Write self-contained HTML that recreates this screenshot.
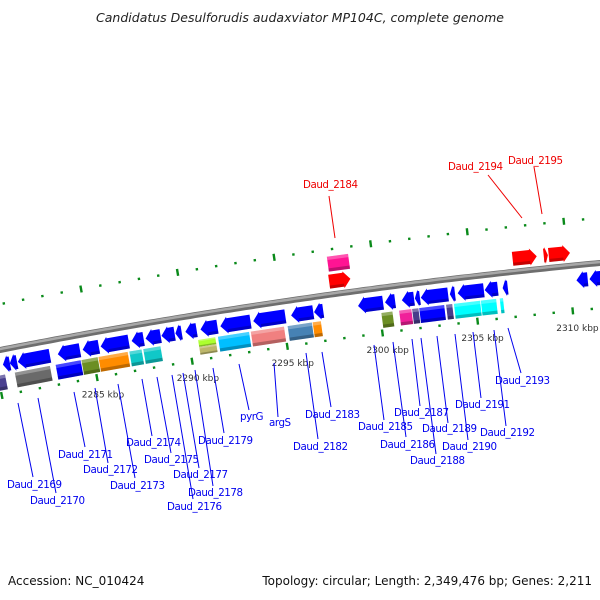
<!DOCTYPE html>
<html><head><meta charset="utf-8">
<style>
html,body{margin:0;padding:0;background:#fff;}
svg{display:block;font-family:"DejaVu Sans","Liberation Sans",sans-serif;}
.gl{fill:#0000ee;font-size:10.3px;letter-spacing:-0.45px;}
.rl{fill:#ee0000;font-size:10.3px;letter-spacing:-0.45px;}
</style></head>
<body>
<svg id="map" width="600" height="600" viewBox="0 0 600 600" xmlns="http://www.w3.org/2000/svg">
<rect width="600" height="600" fill="#fff"/>
<text x="300" y="22" text-anchor="middle" font-style="italic" font-size="12.5" fill="#222">Candidatus Desulforudis audaxviator MP104C, complete genome</text>
<g id="ticks"></g>
<g id="backbone"></g>
<g id="genes"></g>
<g id="labels"></g>
<text x="8" y="585" font-size="12" fill="#111">Accession: NC_010424</text>
<text x="592" y="585" text-anchor="end" font-size="12" fill="#111">Topology: circular; Length: 2,349,476 bp; Genes: 2,211</text>
</svg>
<script>
// data (kbp)
const minusArrowStart=[2280.36,2280.72,2281.14,2283.23,2284.53,2285.47,2287.09,2287.82,2288.65,2289.38,2289.90,2290.69,2291.73,2293.45,2295.43,2296.63,2298.93,2300.34,2301.22,2301.90,2302.21,2303.73,2304.14,2305.55,2306.49,2310.35,2311.03];
const minusArrowEnd=[2280.77,2281.14,2282.86,2284.43,2285.42,2286.98,2287.76,2288.65,2289.38,2289.75,2290.53,2291.62,2293.35,2295.17,2296.63,2297.15,2300.28,2300.91,2301.90,2302.21,2303.68,2304.04,2305.55,2306.28,2306.80,2310.98,2311.66];
const boxStart=[2279.8,2280.88,2283.02,2284.37,2285.26,2286.88,2287.61,2291.52,2293.24,2295.17,2296.48,2300.08,2301.01,2301.69,2302.06,2303.47,2303.88,2305.29,2306.28];
const boxEnd=[2280.41,2282.76,2284.37,2285.26,2286.83,2287.56,2288.55,2293.19,2295.02,2296.48,2296.95,2300.70,2301.69,2302.06,2303.41,2303.83,2305.29,2306.13,2306.49];
const boxColor=["#4a4090","#6a6a6a","#0000ff","#6b8e23","#ff8c00","#10c8c8","#10c8c8","#00bfff","#f08080","#4682b4","#ff8c00","#6b8e23","#f0209a","#483d8b","#0000ff","#483d8b","#00ffff","#00ffff","#00ffff"];
const splitStart=[2290.48];
const splitEnd=[2291.42];
const plusArrowStart=[2297.62,2307.17,2308.79,2309.05];
const plusArrowEnd=[2298.77,2308.47,2309.05,2310.20];
const plusBoxStart=[2297.68];
const plusBoxEnd=[2298.82];
const tickKbp=[];for(let k=2280;k<=2312;k++)tickKbp.push(k);
const kbpLabels=[2285,2290,2295,2300,2305,2310];

const NS="http://www.w3.org/2000/svg";
function kx(k){return 89+(k-2285)*19.17;}
function by(x){return 350-0.195*x+8.33e-5*x*x;}
function pt(x,d){const s=-0.195+2*8.33e-5*x;const n=Math.sqrt(1+s*s);return [x-s*d/n,by(x)+d/n];}
function mk(tag,attrs,parent){const e=document.createElementNS(NS,tag);for(const a in attrs)e.setAttribute(a,attrs[a]);parent.appendChild(e);return e;}
function poly(pts){return pts.map(p=>p[0].toFixed(2)+","+p[1].toFixed(2)).join(" ");}

// backbone
const bb=document.getElementById('backbone');
let bp=[];for(let x=-5;x<=605;x+=5)bp.push(pt(x,0));
const d="M"+bp.map(p=>p[0].toFixed(1)+" "+p[1].toFixed(1)).join(" L");
const b1=mk('path',{d:d,stroke:'#6e6e6e','stroke-width':6,fill:'none'},bb);


const b2=mk('path',{d:d,stroke:'#a8a8a8','stroke-width':2.5,fill:'none',transform:'translate(0,-1)'},bb);



// ticks
const tg=document.getElementById('ticks');
tickKbp.forEach(k=>{
  const x=kx(k);const major=(k%5===0);
  [-45,45].forEach(off=>{
    const a=pt(x,off-(major?3.5:1.2)),b=pt(x,off+(major?3.5:1.2));
    const l=mk('line',{x1:a[0],y1:a[1],x2:b[0],y2:b[1],stroke:'#0a8a1a','stroke-width':2.4},tg);
    
    
  });
});
kbpLabels.forEach(k=>{
  const p=pt(kx(k),62);
  const t=mk('text',{x:p[0]+3,y:p[1]+3,'text-anchor':'middle','font-size':'9','fill':'#333'},tg);
  t.textContent=k+" kbp";
  
  
});

const gg=document.getElementById('genes');
function shade(x0,x1,d0,d1){
  const h=d1-d0;
  const top=mk('polygon',{points:poly([pt(x0,d0),pt(x1,d0),pt(x1,d0+h*0.22),pt(x0,d0+h*0.22)]),fill:'#fff','fill-opacity':0.28},gg);
  
  
  const bot=mk('polygon',{points:poly([pt(x0,d1-h*0.22),pt(x1,d1-h*0.22),pt(x1,d1),pt(x0,d1)]),fill:'#000','fill-opacity':0.25},gg);
  
  
}
function box(k0,k1,d0,d1,color){
  const x0=kx(k0),x1=kx(k1)-0.8;
  const p=mk('polygon',{points:poly([pt(x0,d0),pt(x1,d0),pt(x1,d1),pt(x0,d1)]),fill:color},gg);
  
  
  shade(x0,x1,d0,d1);
}
function arrow(k0,k1,d0,d1,color,dir){
  const x0=kx(k0),x1=kx(k1)-0.8;const len=x1-x0;const head=Math.min(7,len*0.7);const m=(d0+d1)/2;
  let pts;
  if(dir<0){pts=[pt(x0,m),pt(x0+head,d0-1.5),pt(x0+head,d0),pt(x1,d0),pt(x1,d1),pt(x0+head,d1),pt(x0+head,d1+1.5)];}
  else{pts=[pt(x1,m),pt(x1-head,d0-1.5),pt(x1-head,d0),pt(x0,d0),pt(x0,d1),pt(x1-head,d1),pt(x1-head,d1+1.5)];}
  const p=mk('polygon',{points:poly(pts),fill:color},gg);
  
  
  const b=dir<0?[x0+head,x1]:[x0,x1-head];
  const h=d1-d0;
  const sh=mk('polygon',{points:poly([pt(b[0],d1-h*0.22),pt(b[1],d1-h*0.22),pt(b[1],d1),pt(b[0],d1)]),fill:'#000','fill-opacity':0.22},gg);
  
  
}
minusArrowStart.forEach((s,i)=>arrow(s,minusArrowEnd[i],8,22,'#0000ff',-1));
boxStart.forEach((s,i)=>box(s,boxEnd[i],25,40,boxColor[i]));
splitStart.forEach((s,i)=>{box(s,splitEnd[i],25,32,'#adff2f');box(s,splitEnd[i],32,40,'#bdb76b');});
plusArrowStart.forEach((s,i)=>arrow(s,plusArrowEnd[i],-20,-6,'#ff0000',1));
plusBoxStart.forEach((s,i)=>box(s,plusBoxEnd[i],-38,-23,'#ff1493'));

// labels
const lg=document.getElementById('labels');
const labs=[
["Daud_2169",7,488,18,403,33,477],["Daud_2170",30,504,38,398,56,493],["Daud_2171",58,458,74,392,85,447],
["Daud_2172",83,473,95,388,108,463],["Daud_2173",110,489,118,384,135,478],["Daud_2174",126,446,142,379,152,436],
["Daud_2175",144,463,157,377,171,453],["Daud_2176",167,510,172,375,193,499],["Daud_2177",173,478,183,373,199,468],
["Daud_2178",188,496,195,370,213,486],["Daud_2179",198,444,213,368,224,433],["pyrG",240,420,239,364,249,410],
["argS",269,426,274,363,278,417],["Daud_2182",293,450,306,353,318,439],["Daud_2183",305,418,322,352,331,407],
["Daud_2185",358,430,374,345,384,420],["Daud_2186",380,448,393,342,406,437],["Daud_2187",394,416,412,339,420,406],
["Daud_2188",410,464,421,338,436,454],["Daud_2189",422,432,437,336,448,423],["Daud_2190",442,450,455,334,468,440],
["Daud_2191",455,408,473,332,481,398],["Daud_2192",480,436,494,330,506,426],["Daud_2193",495,384,508,328,521,373]];
labs.forEach(l=>{
  const ln=mk('line',{x1:l[3],y1:l[4],x2:l[5],y2:l[6],stroke:'#0000ee','stroke-width':1},lg);
  
  
  const t=mk('text',{x:l[1],y:l[2],'class':'gl'},lg);
  t.textContent=l[0];
  
  
});
const red=[["Daud_2184",303,188,329,196,335,238],["Daud_2194",448,170,488,175,522,218],["Daud_2195",508,164,534,167,542,214]];
red.forEach(l=>{
  const ln=mk('line',{x1:l[3],y1:l[4],x2:l[5],y2:l[6],stroke:'#ee0000','stroke-width':1},lg);
  
  
  const t=mk('text',{x:l[1],y:l[2],'class':'rl'},lg);
  t.textContent=l[0];
  
  
});
</script>
</body></html>
